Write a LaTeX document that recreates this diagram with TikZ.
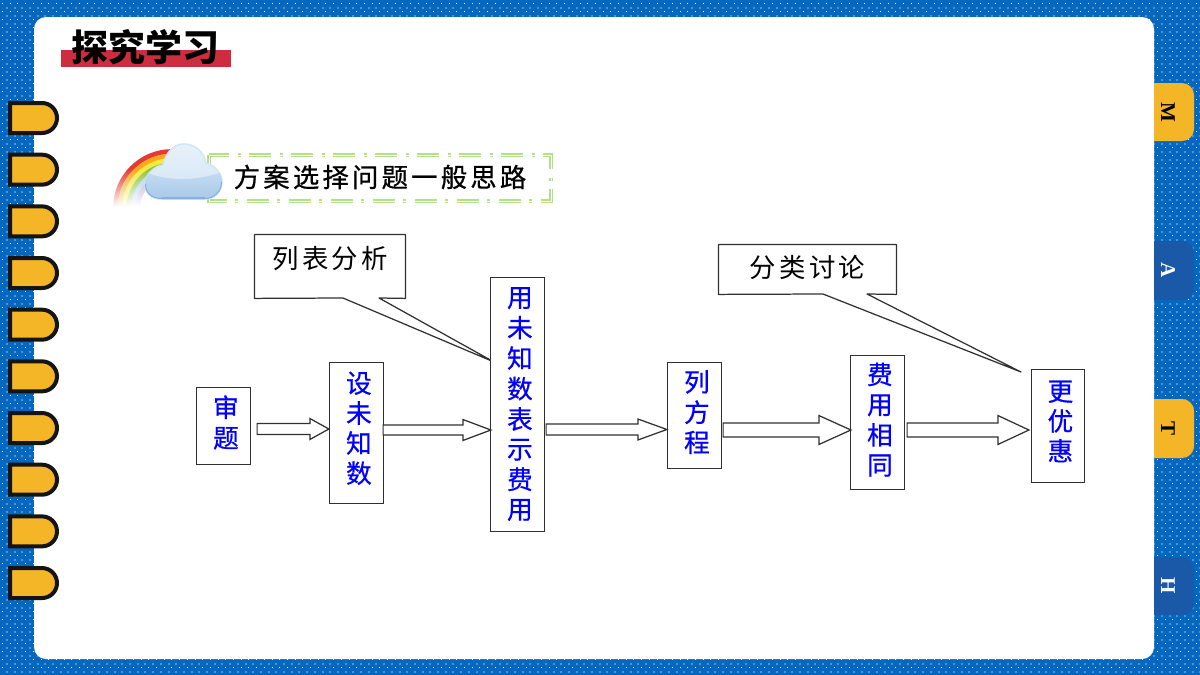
\documentclass[tikz,border=0pt]{standalone}
\usepackage{fontspec}
\usetikzlibrary{calc}
\newfontfamily\cjk{Noto Sans CJK SC}
\newfontfamily\cjkheavy[FakeBold=0.7]{Noto Sans CJK SC}
\newfontfamily\cjkwide[LetterSpace=12]{Noto Sans CJK SC}
\newfontfamily\cjkwideheavy[LetterSpace=12,FakeBold=0.7]{Noto Sans CJK SC}
\newfontfamily\tabfont{Liberation Serif}
\definecolor{pagebg}{HTML}{0568BE}
\definecolor{dotdim}{HTML}{4A92D4}
\definecolor{amber}{HTML}{F4B526}
\definecolor{tabblue}{HTML}{1A58A8}
\definecolor{framegreen}{HTML}{B4E08C}
\definecolor{rule}{HTML}{303030}
\definecolor{titlered}{HTML}{CC2D3F}
\definecolor{cloudA}{HTML}{E8F1FA}
\definecolor{cloudB}{HTML}{D2E4F5}
\definecolor{cloudC}{HTML}{C6DCF1}
\definecolor{cloudD}{HTML}{A4C7E8}
\definecolor{cloudEdge}{HTML}{82B2E0}
\definecolor{cloudRim}{HTML}{D3E6F6}
% text moved up inside its node without changing the node's size
\newcommand{\lifted}[2]{\raisebox{#1}[\height][\depth]{#2}}
% stacked characters: pitch, raise, lines
\newcommand{\vstack}[3]{\kern2.4pt\lifted{#2}{\fontsize{12.8}{#1}\selectfont\cjkheavy\begin{tabular}{@{}c@{}}#3\end{tabular}}}
% block arrow between two named points: half body, half head, head length
\newcommand{\blockarrow}[5]{\draw[rule,line width=.62pt,fill=white,line join=miter]
  ($(#1)+(0,-#3)$) -- ($(#2)+(-#5,-#3)$) -- ($(#2)+(-#5,-#4)$) -- (#2)
  -- ($(#2)+(-#5,#4)$) -- ($(#2)+(-#5,#3)$) -- ($(#1)+(0,#3)$) -- cycle;}
\tikzset{
  stepbox/.style={draw=rule,line width=.62pt,fill=white,inner sep=0pt,text=blue},
  notebox/.style={inner sep=0pt,font=\fontsize{13.2}{15}\selectfont\cjkwide},
  tail/.style={draw=rule,line width=.62pt,line join=round},
  tablabel/.style={inner sep=0pt,rotate=-90,font=\fontsize{10.5}{11}\selectfont\tabfont\bfseries}
}
\begin{document}
\begin{tikzpicture}[x=.5pt,y=-.5pt]
\useasboundingbox (0,0) rectangle (1200,675);
\fill[pagebg] (0,0) rectangle (1200,675);
% dotted margin
\foreach \c in {0,1,2,3,4,148,149,150,151,152,153,154,155,156} \foreach \k in {0,...,84} {
  \fill[white] ({2+7.7*\c},{3+8*\k}) rectangle +(1,1);
  \fill[dotdim] ({5.8+7.7*\c},{7+8*\k}) rectangle +(2,2);
}
\foreach \c in {5,...,147} \foreach \k in {0,1,82,83,84} {
  \fill[white] ({2+7.7*\c},{3+8*\k}) rectangle +(1,1);
  \fill[dotdim] ({5.8+7.7*\c},{7+8*\k}) rectangle +(2,2);
}
% page card
\fill[white,rounded corners=6pt] (34,17) rectangle (1154,659);
% binder rings
\foreach \i in {0,...,9} {
  \pgfmathsetmacro{\ringtop}{103+51.67*\i}
  \draw[black!92,line width=2pt,fill=amber,line join=miter]
    (10,\ringtop) [rounded corners=7.5pt] -- (57,\ringtop) -- (57,\ringtop+30) [sharp corners] -- (10,\ringtop+30) -- cycle;
}
% side tabs
\fill[amber] (1154,83) [rounded corners=6pt] -- (1194,83) -- (1194,141) [sharp corners] -- (1154,141) -- cycle;
\fill[tabblue] (1154,241) [rounded corners=6pt] -- (1194,241) -- (1194,300) [sharp corners] -- (1154,300) -- cycle;
\fill[amber] (1154,399) [rounded corners=6pt] -- (1194,399) -- (1194,458) [sharp corners] -- (1154,458) -- cycle;
\fill[tabblue] (1154,557) [rounded corners=6pt] -- (1194,557) -- (1194,615) [sharp corners] -- (1154,615) -- cycle;
\node[tablabel,text=black] (tabM) at (1168,112) {M};
\node[tablabel,text=white] (tabA) at (1168,270) {A};
\node[tablabel,text=black] (tabT) at (1168,428) {T};
\node[tablabel,text=white] (tabH) at (1168,586) {H};
% section title
\fill[titlered] (61,50) rectangle (231,67);
\node[inner sep=0pt,text=black,font=\fontsize{18.5}{20}\selectfont\cjk\bfseries] (title) at (145,47) {探究学习};
% rainbow, dissolving towards its feet
\foreach \r/\col in {56.5/E53935,52/F7A81E,47.5/F6E93B,43/8CC63F,38.5/A9CDEE,34/B8A4CF} {
  \definecolor{bandcol}{HTML}{\col}
  \draw[bandcol,line width=2.4pt] ({172-\r},208) arc (180:270:\r);
}
\foreach \s in {0,...,19} {
  \pgfmathsetmacro{\veil}{min(1,(\s+1)/19)}
  \fill[white,opacity=\veil] (105,{170+2*\s}) rectangle (150,{172+2*\s});
}
\fill[white] (105,208) rectangle (150,212);
% heading frame
\draw[framegreen,line width=.7pt,double=white,double distance=.5pt,
      dash pattern=on 11pt off 4pt on 1.5pt off 4.5pt] (209,155) rectangle (551,201);
% cloud
\def\cloudpath{(162,199) .. controls (150,199) and (145,192) .. (145,184) .. controls (145,174) and (155,166) .. (163,165) .. controls (166,152) and (174,144) .. (184,144) .. controls (195,144) and (204,152) .. (206,163) .. controls (216,166) and (222,174) .. (222,182) .. controls (222,192) and (214,199) .. (205,199) -- cycle}
\shade[top color=cloudA,bottom color=cloudB,draw=cloudRim,line width=.8pt] \cloudpath;
\begin{scope}
  \clip \cloudpath;
  \shade[top color=cloudC,bottom color=cloudD] (140,170) .. controls (165,182) and (200,182) .. (226,170) -- (226,203) -- (140,203) -- cycle;
  \draw[cloudEdge,line width=1.6pt] (162,199) -- (205,199);
  \draw[cloudEdge,line width=1pt] (145,184) .. controls (145,192) and (150,199) .. (162,199);
  \draw[cloudEdge,line width=1pt] (222,182) .. controls (222,192) and (214,199) .. (205,199);
\end{scope}
\node[notebox,font=\fontsize{13.2}{15}\selectfont\cjkwideheavy] (heading) at (380,177) {方案选择问题一般思路};
% callouts
\node[notebox,minimum width=75pt,minimum height=31.5pt] (noteA) at (330,266.5) {\lifted{4pt}{列表分析}};
\coordinate (noteAtip) at (494,362);
\draw[tail] (379,298) -- (noteAtip) -- (343,298) -- (noteA.south west) -- (noteA.north west) -- (noteA.north east) -- (noteA.south east) -- cycle;
\node[notebox,minimum width=88.5pt,minimum height=24.5pt] (noteB) at (807.5,269.5) {\lifted{1.25pt}{分类讨论}};
\coordinate (noteBtip) at (1021,372);
\draw[tail] (867,294) -- (noteBtip) -- (823,294) -- (noteB.south west) -- (noteB.north west) -- (noteB.north east) -- (noteB.south east) -- cycle;
% process steps
\node[stepbox,minimum width=27pt,minimum height=38.5pt] (s1) at (223.5,426) {\vstack{15.2}{0pt}{审\\题}};
\node[stepbox,minimum width=27pt,minimum height=70.5pt] (s2) at (356.5,433) {\vstack{14.2}{.75pt}{设\\未\\知\\数}};
\node[stepbox,minimum width=27pt,minimum height=127pt] (s3) at (517.5,404.5) {\vstack{14.9}{-1.2pt}{用\\未\\知\\数\\表\\示\\费\\用}};
\node[stepbox,minimum width=27pt,minimum height=53pt] (s4) at (694.5,415.5) {\vstack{14.8}{0pt}{列\\方\\程}};
\node[stepbox,minimum width=27pt,minimum height=67pt] (s5) at (877.5,422.5) {\vstack{15}{-.3pt}{费\\用\\相\\同}};
\node[stepbox,minimum width=26.5pt,minimum height=56.5pt] (s6) at (1058,426) {\vstack{14}{.6pt}{更\\优\\惠}};
% block arrows
\coordinate (a1s) at ($(s1.east)+(6,3)$);  \coordinate (a1t) at ($(s2.west)+(0,-4)$);
\coordinate (a2s) at ($(s2.east)+(-1,-3)$); \coordinate (a2t) at ($(s3.west)+(1,25.5)$);
\coordinate (a3s) at ($(s3.east)+(1,25)$); \coordinate (a3t) at ($(s4.west)+(0,14)$);
\coordinate (a4s) at ($(s4.east)+(1,14.5)$); \coordinate (a4t) at ($(s5.west)+(1,7.5)$);
\coordinate (a5s) at ($(s5.east)+(2,7.5)$); \coordinate (a5t) at ($(s6.west)+(-2,4)$);
\blockarrow{a1s}{a1t}{5.5}{10.5}{19}
\blockarrow{a2s}{a2t}{5}{10.5}{28}
\blockarrow{a3s}{a3t}{5.5}{10.5}{29}
\blockarrow{a4s}{a4t}{7}{14.5}{32}
\blockarrow{a5s}{a5t}{7}{14.5}{31}
\end{tikzpicture}
\end{document}
